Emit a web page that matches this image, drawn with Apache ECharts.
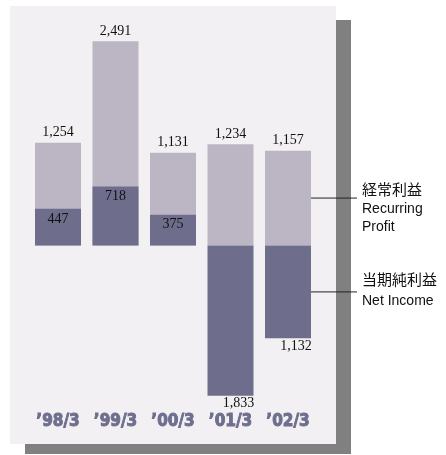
<!DOCTYPE html>
<html>
<head>
<meta charset="utf-8">
<script src="https://cdn.jsdelivr.net/npm/echarts@6/dist/echarts.min.js"></script>
<style>
html,body{margin:0;padding:0;background:#ffffff;}
#chart{width:446px;height:455px;}
</style>
</head>
<body>
<div id="chart"></div>
<script>
const categories = ['\u201998/3', '\u201999/3', '\u201900/3', '\u201901/3', '\u201902/3'];
const recurringProfit = [1254, 2491, 1131, 1234, 1157];
const netIncome = [447, 718, 375, -1833, -1132];
const legendRecurring = ['経常利益', 'Recurring', 'Profit'];
const legendNet = ['当期純利益', 'Net Income'];

const fmt = v => Math.abs(v).toLocaleString('en-US');
const labelFont = '"Liberation Serif","Times New Roman",serif';
const sansFont = '"Liberation Sans","Noto Sans CJK JP",sans-serif';

const chart = echarts.init(document.getElementById('chart'), null, {renderer: 'canvas'});

const option = {
  animation: false,
  backgroundColor: 'transparent',
  grid: {left: 29.25, width: 287.5, top: 40.5, height: 369},
  xAxis: {
    type: 'category',
    data: categories,
    axisLine: {show: false, onZero: false},
    axisTick: {show: false},
    splitLine: {show: false},
    axisLabel: {
      margin: 4,
      color: '#6e6e8e',
      fontFamily: '"DejaVu Sans Condensed","DejaVu Sans",sans-serif',
      fontWeight: 'bold',
      fontSize: 17,
      textBorderColor: '#6e6e8e',
      textBorderWidth: 0.9
    }
  },
  yAxis: {
    type: 'value',
    min: -2000,
    max: 2500,
    show: false,
    splitLine: {show: false}
  },
  series: [
    {
      name: 'Recurring Profit',
      type: 'bar',
      data: recurringProfit,
      barWidth: 46,
      barGap: '-100%',
      itemStyle: {color: '#bcb6c4'},
      label: {
        show: true,
        position: 'top',
        distance: 3,
        color: '#111111',
        fontFamily: labelFont,
        fontSize: 14,
        formatter: p => fmt(p.value)
      }
    },
    {
      name: 'Net Income',
      type: 'bar',
      data: netIncome.map(v => v < 0 ? {
        value: v,
        label: {position: 'bottom', distance: 1, offset: [8, 0]}
      } : {value: v}),
      barWidth: 46,
      barGap: '-100%',
      itemStyle: {color: '#6e6e8c'},
      label: {
        show: true,
        position: 'insideTop',
        distance: 3,
        color: '#111111',
        fontFamily: labelFont,
        fontSize: 14,
        formatter: p => fmt(p.value)
      }
    }
  ]
};

chart.setOption(option);

// annotation lines from the last bar
const last = categories.length - 1;
const xc = chart.convertToPixel({gridIndex: 0}, [last, 0])[0];
const y0 = chart.convertToPixel({gridIndex: 0}, [last, 0])[1];
const yR = chart.convertToPixel({gridIndex: 0}, [last, recurringProfit[last]])[1];
const yN = chart.convertToPixel({gridIndex: 0}, [last, netIncome[last]])[1];
const xr = xc + 23;
const midR = (y0 + yR) / 2;
const midN = (y0 + yN) / 2;

const graphics = [
  {type: 'rect', z: -20, silent: true, shape: {x: 25, y: 20, width: 326, height: 434}, style: {fill: '#808080'}},
  {type: 'rect', z: -10, silent: true, shape: {x: 10, y: 6, width: 326, height: 438}, style: {fill: '#f2f0f2'}},
  {type: 'line', z: 50, shape: {x1: xr, y1: midR, x2: 357, y2: midR}, style: {stroke: '#222222', lineWidth: 1}},
  {type: 'line', z: 50, shape: {x1: xr, y1: midN, x2: 357, y2: midN}, style: {stroke: '#222222', lineWidth: 1}},
  {type: 'text', z: 50, x: 362, y: 190.5, style: {text: legendRecurring[0], font: '15px ' + sansFont, fill: '#111111', verticalAlign: 'middle'}},
  {type: 'text', z: 50, x: 362, y: 209, style: {text: legendRecurring[1], font: '14px ' + sansFont, fill: '#111111', verticalAlign: 'middle'}},
  {type: 'text', z: 50, x: 362, y: 227, style: {text: legendRecurring[2], font: '14px ' + sansFont, fill: '#111111', verticalAlign: 'middle'}},
  {type: 'text', z: 50, x: 362, y: 280.5, style: {text: legendNet[0], font: '15px ' + sansFont, fill: '#111111', verticalAlign: 'middle'}},
  {type: 'text', z: 50, x: 362, y: 301, style: {text: legendNet[1], font: '14px ' + sansFont, fill: '#111111', verticalAlign: 'middle'}}
];
chart.setOption({graphic: {elements: graphics}});
</script>
</body>
</html>
